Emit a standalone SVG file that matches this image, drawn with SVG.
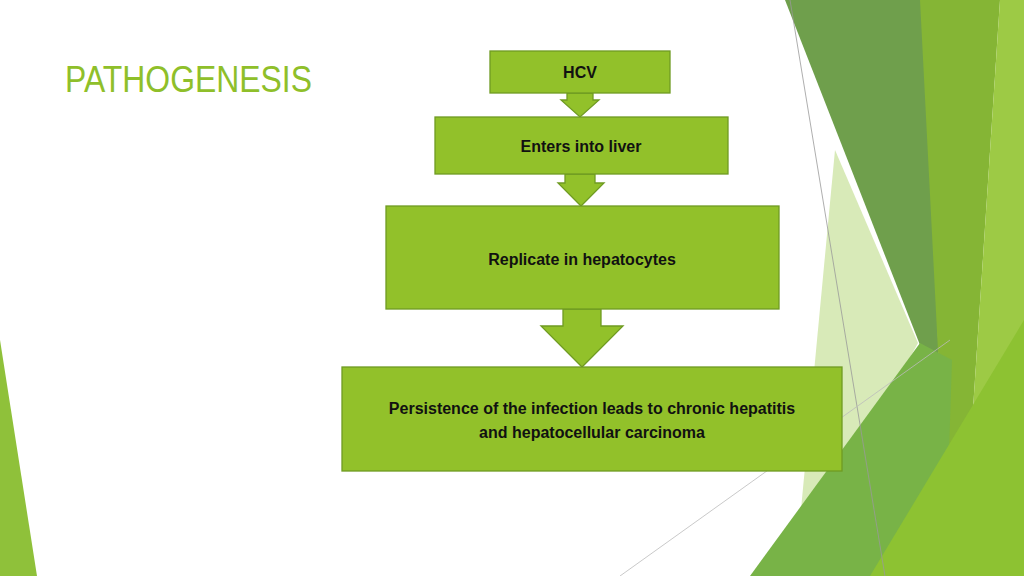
<svg xmlns="http://www.w3.org/2000/svg" width="1024" height="576" viewBox="0 0 1024 576">
<style>
.box{fill:#92c12a;stroke:#6f9b22;stroke-width:1.3}
.t{font-family:"Liberation Sans",Arial,sans-serif;font-weight:bold;font-size:16px;fill:#111;text-anchor:middle}
</style>
<rect width="1024" height="576" fill="#fff"/>
<g id="decor">
<polygon points="0,340 0,576 37,576" fill="#8fc13a"/>
<polygon points="835,150 918,343 870,430 800,520" fill="#d8eab8"/>
<polygon points="785,0 925,0 940,390 920,345" fill="#6f9f4c"/>
<polygon points="920,0 1000,0 962,576 940,390" fill="#85b535"/>
<polygon points="1000,0 1024,0 1024,576 962,576" fill="#9dca45"/>
<polygon points="750,576 920,343 952,360 945,576" fill="#78b347"/>
<polygon points="870,576 1024,320 1024,576" fill="#8dc232"/>
<line x1="790" y1="0" x2="885" y2="576" stroke="#999" stroke-width="0.8"/>
<line x1="620" y1="576" x2="950" y2="340" stroke="#bbb" stroke-width="0.8"/>
</g>
<text x="65" y="92" font-family="'Liberation Sans',Arial,sans-serif" font-size="36" fill="#8fbf2a" textLength="247" lengthAdjust="spacingAndGlyphs">PATHOGENESIS</text>
<g id="connectors">
<polygon class="box" points="567,93 593,93 593,100 599,100 580,117 561,100 567,100"/>
<polygon class="box" points="565,174 595,174 595,183 604,183 581,206 558,183 565,183"/>
<polygon class="box" points="563,309 601,309 601,326 623,326 582,367 541,326 563,326"/>
</g>
<g id="hcv"><rect class="box" x="490" y="51" width="180" height="42"/><text class="t" x="580" y="78">HCV</text></g>
<g id="liver"><rect class="box" x="435" y="117" width="293" height="57"/><text class="t" x="581" y="152">Enters into liver</text></g>
<g id="replicate"><rect class="box" x="386" y="206" width="393" height="103"/><text class="t" x="582" y="265">Replicate in hepatocytes</text></g>
<g id="persist"><rect class="box" x="342" y="367" width="500" height="104"/><text class="t" x="592" y="414">Persistence of the infection leads to chronic hepatitis</text><text class="t" x="592" y="438">and hepatocellular carcinoma</text></g>
</svg>
